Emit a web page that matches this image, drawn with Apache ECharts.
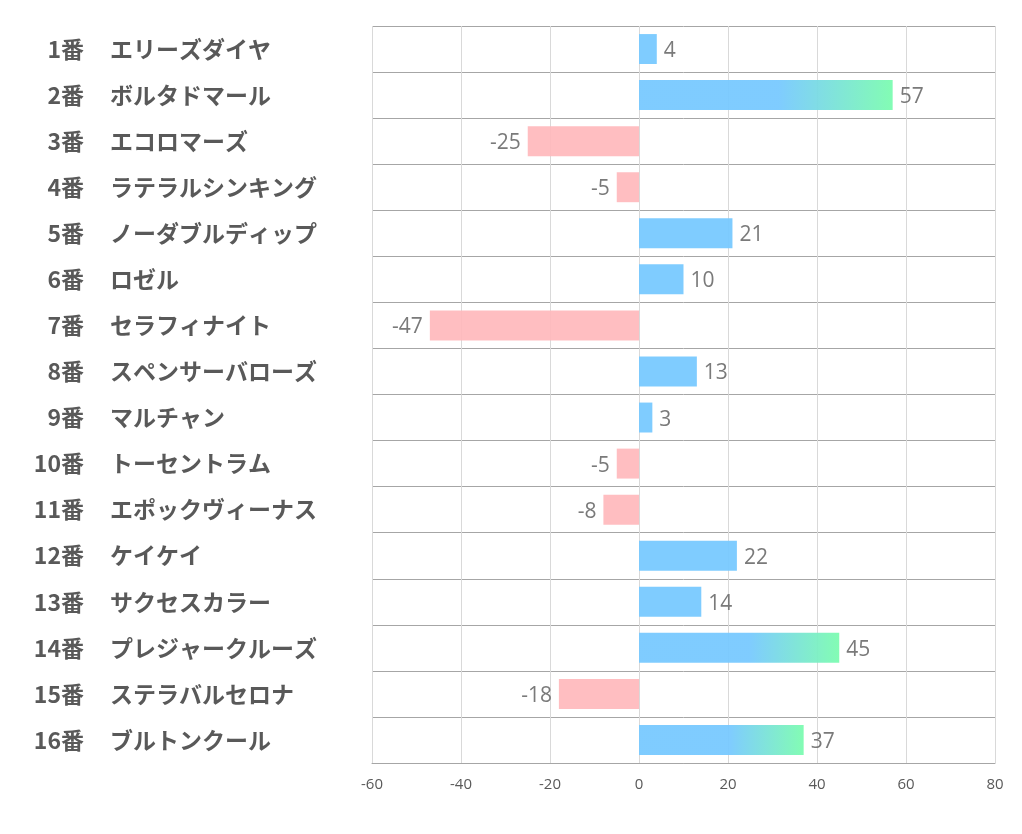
<!DOCTYPE html>
<html><head><meta charset="utf-8">
<script src="https://cdn.jsdelivr.net/npm/echarts@6/dist/echarts.min.js"></script>
<style>html,body{margin:0;padding:0;background:#fff}#c{width:1022px;height:834px}</style>
</head><body><div id="c"></div>
<script>
const numbers = ['1番','2番','3番','4番','5番','6番','7番','8番','9番','10番','11番','12番','13番','14番','15番','16番'];
const names = ['エリーズダイヤ','ボルタドマール','エコロマーズ','ラテラルシンキング','ノーダブルディップ','ロゼル','セラフィナイト','スペンサーバローズ','マルチャン','トーセントラム','エポックヴィーナス','ケイケイ','サクセスカラー','プレジャークルーズ','ステラバルセロナ','ブルトンクール'];
const values = [4,57,-25,-5,21,10,-47,13,3,-5,-8,22,14,45,-18,37];
const xTicks = {min:-60, max:80, step:20};

const blue = 'rgba(120,201,255,0.95)';
const pink = 'rgba(255,183,186,0.9)';
const data = values.map(v=>{
  let color;
  if (v < 0) color = pink;
  else if (v >= 30) color = new echarts.graphic.LinearGradient(0,0,1,0,[
    {offset:0,color:blue},{offset:0.55,color:blue},{offset:1,color:'rgba(124,252,176,0.95)'}]);
  else color = blue;
  return {value:v, itemStyle:{color}, label:{position: v<0?'left':'right'}};
});

const labelFont = {fontSize:23,fontWeight:'bold',color:'#595959',fontFamily:'Noto Sans CJK JP'};
const chart = echarts.init(document.getElementById('c'));
chart.setOption({
  animation:false,
  grid:{left:372,right:27,top:26,bottom:71,containLabel:false},
  xAxis:{type:'value',min:xTicks.min,max:xTicks.max,interval:xTicks.step,
    axisLine:{show:true,lineStyle:{color:'#a6a6a6'}},axisTick:{show:false},
    splitLine:{show:true,lineStyle:{color:'#d9d9d9'}},
    axisLabel:{color:'#595959',fontSize:15,margin:14,fontFamily:'Open Sans'}},
  yAxis:[
    {type:'category',inverse:true,data:numbers,position:'left',
      axisLine:{show:false},axisTick:{show:false},
      splitLine:{show:true,lineStyle:{color:'#a6a6a6'}},
      axisLabel:Object.assign({align:'right',margin:288},labelFont)},
    {type:'category',inverse:true,data:names,position:'left',offset:0,
      axisLine:{show:false},axisTick:{show:false},splitLine:{show:false},
      axisLabel:Object.assign({align:'left',margin:262},labelFont)}
  ],
  series:[{type:'bar',yAxisIndex:0,data:data,barCategoryGap:'35%',
    label:{show:true,color:'#7a7a7a',fontSize:21,distance:7,fontFamily:'Open Sans',offset:[0,2]}}]
});
</script></body></html>
